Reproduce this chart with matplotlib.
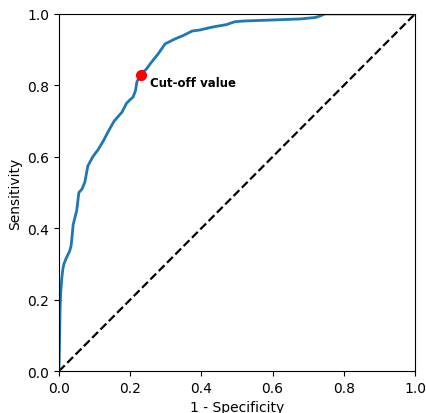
import numpy as np
import matplotlib
matplotlib.use("Agg")
import matplotlib.pyplot as plt

# ROC curve points
fpr = [0.0, 0.001, 0.002, 0.003, 0.005, 0.008, 0.011, 0.014, 0.02, 0.03, 0.034,
       0.037, 0.04, 0.045, 0.05, 0.056, 0.065, 0.073, 0.081, 0.095, 0.11, 0.125,
       0.138, 0.155, 0.177, 0.19, 0.2, 0.208, 0.215, 0.219, 0.23, 0.245, 0.26,
       0.28, 0.298, 0.326, 0.35, 0.374, 0.396, 0.43, 0.47, 0.494, 0.517, 0.6,
       0.68, 0.72, 0.733, 0.747, 0.85, 1.0]
tpr = [0.0, 0.05, 0.1, 0.165, 0.22, 0.26, 0.285, 0.30, 0.315, 0.336, 0.35,
       0.378, 0.41, 0.43, 0.45, 0.50, 0.51, 0.53, 0.574, 0.60, 0.62, 0.645,
       0.67, 0.70, 0.725, 0.75, 0.76, 0.767, 0.785, 0.81, 0.83, 0.845, 0.865,
       0.89, 0.916, 0.93, 0.94, 0.952, 0.955, 0.963, 0.97, 0.978, 0.98, 0.983,
       0.986, 0.99, 0.994, 1.0, 1.0, 1.0]

cutoff_x = 0.23
cutoff_y = 0.83

fig = plt.figure(figsize=(4.27, 4.14), dpi=100)
ax = fig.add_axes([0.138, 0.101, 0.834, 0.863])

ax.plot([0, 1], [0, 1], "k--", lw=1.6)
ax.plot(fpr, tpr, color="#1f77b4", lw=2.0)
ax.plot(cutoff_x, cutoff_y, "o", color="red", ms=7)
ax.text(cutoff_x + 0.025, cutoff_y - 0.022, "Cut-off value", fontsize=8.5,
        fontweight="bold", va="center", ha="left")

ax.set_xlim(0, 1)
ax.set_ylim(0, 1)
ax.set_xlabel("1 - Specificity")
ax.set_ylabel("Sensitivity")

fig.savefig("out.png", dpi=100)
